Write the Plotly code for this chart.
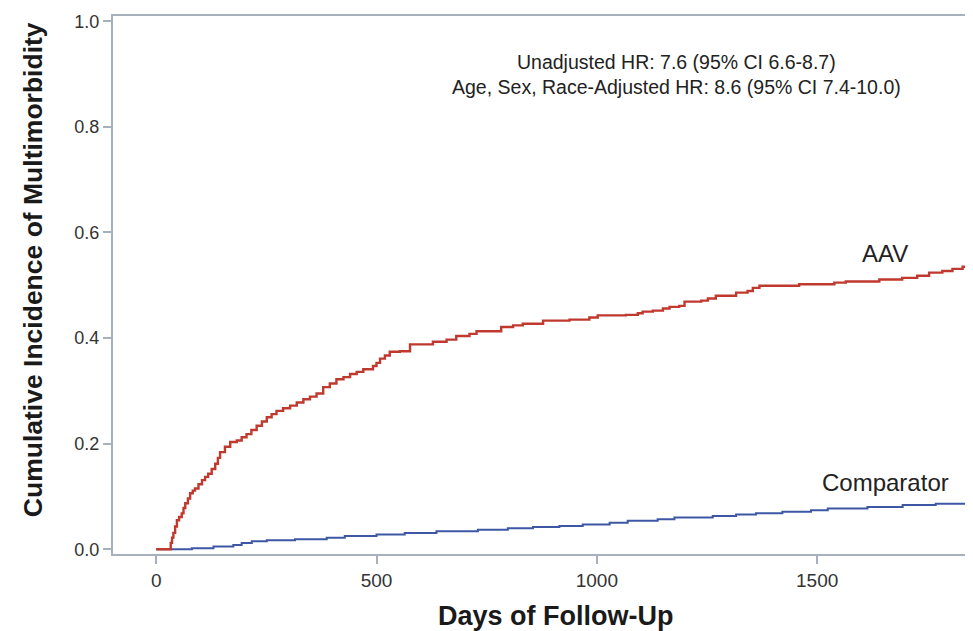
import plotly.graph_objects as go

# AAV cumulative incidence (step events: day, value)
aav_days = [0, 33, 36, 39, 43, 47, 52, 58, 62, 66, 72, 77, 83, 88, 96, 104, 111, 118, 126, 134,
            140, 145, 156, 168, 183, 194, 205, 216, 228, 240, 251, 262, 273, 288, 304, 319, 334,
            349, 364, 379, 394, 409, 425, 440, 455, 470, 492, 500, 508, 519, 530, 553, 576, 628,
            659, 681, 711, 727, 783, 810, 832, 878, 938, 983, 1002, 1066, 1093, 1104, 1127, 1150,
            1165, 1187, 1199, 1237, 1252, 1270, 1316, 1342, 1354, 1369, 1459, 1539, 1565, 1641,
            1693, 1727, 1754, 1784, 1807, 1830, 1840]
aav_vals = [0.0, 0.012, 0.022, 0.031, 0.043, 0.055, 0.061, 0.068, 0.078, 0.087, 0.096, 0.106,
            0.111, 0.115, 0.123, 0.131, 0.137, 0.143, 0.152, 0.162, 0.173, 0.184, 0.194, 0.203,
            0.206, 0.212, 0.218, 0.226, 0.234, 0.242, 0.250, 0.256, 0.262, 0.267, 0.272, 0.278,
            0.284, 0.289, 0.295, 0.307, 0.314, 0.322, 0.326, 0.332, 0.336, 0.341, 0.347, 0.353,
            0.361, 0.367, 0.374, 0.375, 0.388, 0.393, 0.397, 0.404, 0.408, 0.413, 0.421, 0.424,
            0.427, 0.433, 0.435, 0.439, 0.443, 0.444, 0.447, 0.450, 0.452, 0.456, 0.459, 0.461,
            0.469, 0.471, 0.475, 0.480, 0.486, 0.489, 0.495, 0.499, 0.502, 0.505, 0.507, 0.511,
            0.514, 0.518, 0.524, 0.527, 0.531, 0.535, 0.535]

# Comparator cumulative incidence
comp_days = [0, 81, 130, 175, 194, 217, 251, 315, 387, 428, 500, 564, 636, 730, 798, 855, 915,
             968, 1029, 1070, 1138, 1176, 1263, 1316, 1361, 1421, 1486, 1524, 1614, 1694, 1769, 1840]
comp_vals = [0.0, 0.002, 0.005, 0.008, 0.012, 0.015, 0.017, 0.019, 0.022, 0.025, 0.028, 0.031,
             0.034, 0.037, 0.040, 0.042, 0.044, 0.047, 0.050, 0.054, 0.057, 0.060, 0.063, 0.066,
             0.068, 0.071, 0.074, 0.077, 0.080, 0.084, 0.086, 0.086]

x_ticks = [0, 500, 1000, 1500]
y_ticks = [0.0, 0.2, 0.4, 0.6, 0.8, 1.0]

frame = "#a7b1bd"
tick_font_color = "#333333"

fig = go.Figure()
fig.add_trace(go.Scatter(x=comp_days, y=comp_vals, mode="lines", line_shape="hv",
                         line=dict(color="#3d57a5", width=2), name="Comparator", showlegend=False))
fig.add_trace(go.Scatter(x=aav_days, y=aav_vals, mode="lines", line_shape="hv",
                         line=dict(color="#c0392f", width=2.4), name="AAV", showlegend=False))

fig.update_layout(
    width=965, height=623,
    margin=dict(l=105, r=5, t=4, b=77),
    paper_bgcolor="white", plot_bgcolor="white",
    xaxis=dict(range=[-98, 1840], tickvals=x_ticks, ticktext=[str(v) for v in x_ticks],
               showgrid=False, zeroline=False, showline=True, mirror=True,
               linecolor=frame, linewidth=2, ticks="outside", ticklen=8, tickwidth=1.5,
               tickcolor=frame,
               tickfont=dict(family="Liberation Sans Narrow, Arial Narrow, Liberation Sans",
                             size=19, color=tick_font_color)),
    yaxis=dict(range=[-0.009, 1.010], tickvals=y_ticks, ticktext=[f"{v:.1f}" for v in y_ticks],
               showgrid=False, zeroline=False, showline=True, mirror=True,
               linecolor=frame, linewidth=2, ticks="outside", ticklen=8, tickwidth=1.5,
               tickcolor=frame,
               tickfont=dict(family="Liberation Sans, Arial", size=18, color=tick_font_color)),
    annotations=[
        dict(text="Unadjusted HR: 7.6 (95% CI 6.6-8.7)", xref="paper", yref="paper",
             x=0.6596, y=0.9151, xanchor="center", yanchor="middle", showarrow=False,
             font=dict(family="Liberation Sans, Arial", size=19.5, color="#222222")),
        dict(text="Age, Sex, Race-Adjusted HR: 8.6 (95% CI 7.4-10.0)", xref="paper", yref="paper",
             x=0.6596, y=0.8672, xanchor="center", yanchor="middle", showarrow=False,
             font=dict(family="Liberation Sans, Arial", size=19.5, color="#222222")),
        dict(text="AAV", xref="paper", yref="paper", x=0.904, y=0.559,
             xanchor="center", yanchor="middle", showarrow=False,
             font=dict(family="Liberation Sans, Arial", size=24, color="#222222")),
        dict(text="Comparator", xref="paper", yref="paper", x=0.904, y=0.133,
             xanchor="center", yanchor="middle", showarrow=False,
             font=dict(family="Liberation Sans, Arial", size=24, color="#222222")),
        dict(text="<b>Cumulative Incidence of Multimorbidity</b>", xref="paper", yref="paper",
             x=-0.0936, y=0.5277, xanchor="center", yanchor="middle", textangle=-90,
             showarrow=False,
             font=dict(family="Liberation Sans, Arial", size=26.5, color="#1a1a1a")),
        dict(text="<b>Days of Follow-Up</b>", xref="paper", yref="paper",
             x=0.519, y=-0.1144, xanchor="center", yanchor="middle", showarrow=False,
             font=dict(family="Liberation Sans, Arial", size=27, color="#1a1a1a")),
    ],
)

fig.write_html("out.html")
